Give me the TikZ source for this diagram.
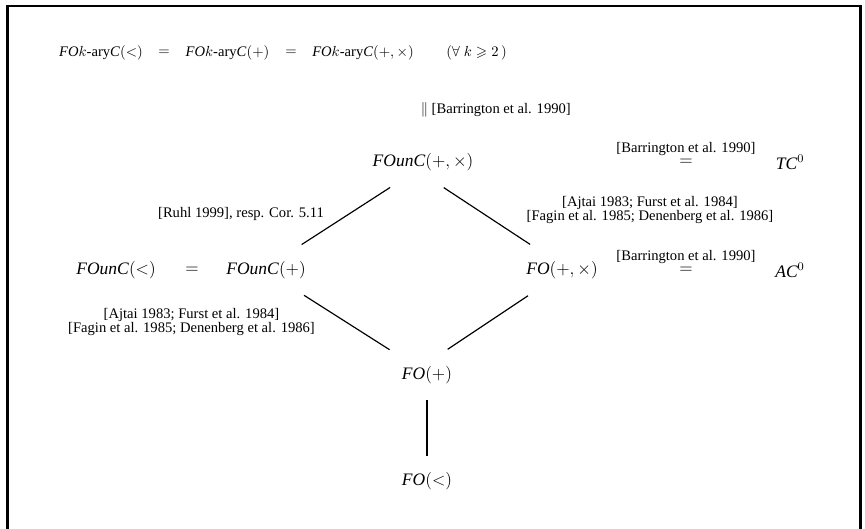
\documentclass[tikz,border=0pt]{standalone}
\usepackage{amssymb}
\usepackage{fontspec}
\setmainfont{Liberation Serif}

\tikzset{
  cls/.style={font=\large, inner sep=2pt},
  cite/.style={font=\fontsize{10}{9}\selectfont, align=center, inner sep=1pt},
  incl/.style={thick, shorten <=17pt, shorten >=17pt},
}

\begin{document}
\begin{tikzpicture}[x=0.685pt, y=-0.685pt]

   \useasboundingbox (0,0) rectangle (865,529);

   % 枠
   \draw [line width=2pt](7.5,529)--(7.5,6)--(860.5,6)--(860.5,529);

   % 上段
   \node (karyless) at (101,53) {\textit{FO}$k$-ary\textit{C}$(<)$};
   \node (eqa) at (164,53) {$=$};
   \node (karyplus) at (227.5,53) {\textit{FO}$k$-ary\textit{C}$(+)$};
   \node (eqb) at (291,53) {$=$};
   \node (karypm) at (363,53) {\textit{FO}$k$-ary\textit{C}$(+,\times)$};
   \node (forallk) at (476.5,53) {$(\forall\ k \geqslant 2\,)$};
   \node [cite, anchor=west] (barra) at (419,110) {$\|$ [Barrington et al. 1990]};

   % FOunC(+,x), TC^0
   \node [cls] (founcpm) at (423,162) {\textit{FOunC}$(+,\times)$};
   \node [cls] (eqtc) at (686,162) {$=$};
   \node [cite, anchor=base] (barrb) at (686,152) {[Barrington et al. 1990]};
   \node [cls] (tc) at (790,162) {$\mathit{TC}^0$};

   % 中段
   \node [cls] (founcless) at (116,270) {\textit{FOunC}$(<)$};
   \node [cls] (eqc) at (192,270) {$=$};
   \node [cls] (founcplus) at (266,270) {\textit{FOunC}$(+)$};
   \node [cls] (fopm) at (562,270) {\textit{FO}$(+,\times)$};
   \node [cls] (eqac) at (686,270) {$=$};
   \node [cite, anchor=base] (barrc) at (686,260) {[Barrington et al. 1990]};
   \node [cls] (ac) at (790,270) {$\mathit{AC}^0$};

   % 下段
   \node [cls] (fop) at (427,375) {\textit{FO}$(+)$};
   \node [cls] (foless) at (427,481) {\textit{FO}$(<)$};

   % 文献
   \node [cite] (ruhl) at (241,214) {[Ruhl 1999], resp. Cor. 5.11};
   \node [cite] (ajtaia) at (650,210) {[Ajtai 1983; Furst et al. 1984]\\{[Fagin et al. 1985; Denenberg et al. 1986]}};
   \node [cite] (ajtaib) at (191.5,322) {[Ajtai 1983; Furst et al. 1984]\\{[Fagin et al. 1985; Denenberg et al. 1986]}};

   % 包含関係
   \draw [incl](founcplus.39)--(founcpm.225);
   \draw [incl](founcpm.south)--(fopm.133);
   \draw [incl](founcplus.-35)--(fop.144);
   \draw [incl](fopm.222)--(fop.north);
   \draw [thick, shorten <=9pt, shorten >=9pt](fop.south)--(foless.north);

\end{tikzpicture}
\end{document}
